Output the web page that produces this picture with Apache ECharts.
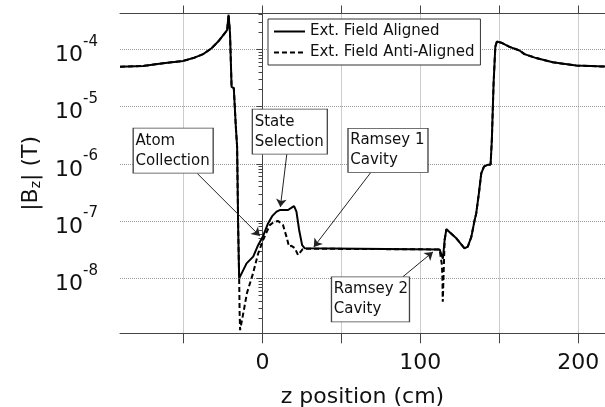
<!DOCTYPE html>
<html>
<head>
<meta charset="utf-8">
<script src="https://cdn.jsdelivr.net/npm/echarts@6/dist/echarts.min.js"></script>
<style>
  html, body { margin: 0; padding: 0; background: #fff; }
  #chart { width: 605px; height: 407px; }
</style>
</head>
<body>
<div id="chart"></div>
<script>
const FONT = 'DejaVu Sans'
const ALIGNED = 'Ext. Field Aligned'
const ANTI = 'Ext. Field Anti-Aligned'

// z position (cm) and |Bz| (T), field aligned
const zAligned = [-90.3, -75.6, -62.9, -50.3, -43.9, -37.6, -32.3, -28.1, -23.9, -22.4, -21.5, -20.6,
  -19.6, -18.2, -16.9, -16.1, -15.4, -14.8, -10.1, -5.9, -2.8, 0.4, 3.5, 6.1, 8.9, 10.9, 16.2, 18.7,
  20.0, 21.5, 23.2, 25.1, 26.8, 112.2, 113.3, 114.3, 115.4, 116.5, 117.5, 122.8, 128.0, 130.1, 132.3,
  134.4, 135.4, 137.1, 138.6, 140.3, 142.2, 144.5, 145.3, 146.4, 147.5, 148.5, 149.1, 151.3, 156.5,
  162.8, 166.0, 173.4, 183.9, 198.7, 217]
const bAligned = [4.95e-5, 5.1e-5, 5.7e-5, 6.25e-5, 7.0e-5, 8.2e-5, 1.04e-4, 1.36e-4, 1.9e-4, 2.17e-4, 4.0e-4, 1.9e-4,
  2.2e-5, 2.1e-5, 4.4e-6, 2e-6, 7e-8, 1e-8, 1.83e-8, 2.4e-8, 3.8e-8, 5.5e-8, 9.1e-8, 1.22e-7, 1.46e-7, 1.56e-7, 1.56e-7, 1.74e-7,
  1.83e-7, 1.46e-7, 7e-8, 3.8e-8, 3.34e-8, 3.2e-8, 3.0e-8, 2.2e-8, 4.7e-8, 7.2e-8, 7.5e-8, 5e-8, 3.34e-8, 3.6e-8, 5.3e-8,
  1.04e-7, 1.36e-7, 3.05e-7, 6.8e-7, 8.9e-7, 9.5e-7, 9.7e-7, 2.6e-6, 2.5e-5, 1.1e-4, 1.36e-4, 1.36e-4, 1.3e-4, 1.1e-4,
  9.5e-5, 8.2e-5, 7e-5, 5.9e-5, 5.2e-5, 4.97e-5]

// field anti-aligned: only differs inside the shield, outside it follows the aligned curve
const zAntiInner = [-14.8, -14.5, -14.2, -11.8, -9.9, -6.1, -2.8, 0.4, 4.6, 7.5, 9.9, 13.0, 15.2, 16.8, 18.3,
  20.4, 22.5, 25.3, 27.0, 112.2, 113.3, 113.7, 114.0, 114.2]
const bAntiInner = [1e-8, 2.5e-9, 1.25e-9, 2.8e-9, 5.5e-9, 1.2e-8, 2.7e-8, 4.7e-8, 8.5e-8, 9.8e-8, 1.0e-7, 8.5e-8, 5.3e-8, 3.6e-8, 3.7e-8,
  3.4e-8, 2.55e-8, 3.2e-8, 3.3e-8, 3.2e-8, 3.0e-8, 1.7e-8, 9.3e-9, 3.9e-9]

const xTicks = [-50, 0, 50, 100, 150, 200]
const xLabels = [0, 100, 200]
const yDecades = [1e-8, 1e-7, 1e-6, 1e-5, 1e-4]
const zMin = -90.3, zMax = 217
const bMin = 1.1e-9, bMax = 4.2e-4

// log minor ticks (2..9 per decade)
const yTicks = []
for (let e = -9; e <= -4; e++) {
  for (let m = 2; m <= 9; m++) {
    const v = +(m + 'e' + e)
    if (v >= bMin && v <= bMax) yTicks.push(v)
  }
}

const notes = [
  { text: 'Atom\nCollection', box: [-56.6, 1.69e-6], size: [80, 45], from: [-41.4, 6.8e-7], to: [-1.7, 5.5e-8] },
  { text: 'State\nSelection', box: [17.3, 3.64e-6], size: [75, 45], from: [15.4, 1.48e-6], to: [11.3, 1.76e-7] },
  { text: 'Ramsey 1\nCavity', box: [79.5, 1.71e-6], size: [80, 44], from: [68.5, 7e-7], to: [32.5, 3.52e-8] },
  { text: 'Ramsey 2\nCavity', box: [68.4, 4.3e-9], size: [78, 45], from: [89, 1.07e-8], to: [108, 2.9e-8] }
]

const alignedData = zAligned.map((z, i) => [z, bAligned[i]])
const antiData = alignedData.filter(p => p[0] <= -15.4)
  .concat(zAntiInner.map((z, i) => [z, bAntiInner[i]]))
  .concat(alignedData.filter(p => p[0] >= 115.4))

const chart = echarts.init(document.getElementById('chart'))

const axisColor = '#444'
const gridLine = { show: true, lineStyle: { color: '#999', type: 'dotted', width: 1 } }

chart.setOption({
  animation: false,
  grid: { left: 120, right: 0, top: 13.5, bottom: 73.7, outerBoundsMode: 'none', containLabel: false },
  legend: {
    data: [ALIGNED, ANTI],
    orient: 'vertical',
    left: 268,
    top: 19,
    itemWidth: 31,
    itemHeight: 14,
    itemGap: 6,
    padding: [5, 6, 5, 5],
    borderColor: '#333',
    borderWidth: 1,
    backgroundColor: '#fff',
    itemStyle: { opacity: 0 },
    textStyle: { fontFamily: FONT, fontSize: 15, color: '#111' }
  },
  xAxis: [
    {
      type: 'value',
      min: zMin,
      max: zMax,
      splitNumber: 6,
      axisLine: { lineStyle: { color: axisColor, width: 1 } },
      axisTick: { customValues: xTicks, length: 10, lineStyle: { color: axisColor } },
      axisLabel: { customValues: xLabels, margin: 19, fontSize: 22, fontFamily: FONT, color: '#111' },
      splitLine: gridLine,
      name: 'z position (cm)',
      nameLocation: 'middle',
      nameGap: 53,
      nameTextStyle: { fontSize: 22, fontFamily: FONT, color: '#111' }
    },
    {
      type: 'value',
      position: 'top',
      min: zMin,
      max: zMax,
      splitNumber: 6,
      axisLine: { lineStyle: { color: axisColor, width: 1 } },
      axisTick: { customValues: xTicks, length: 8, lineStyle: { color: axisColor } },
      axisLabel: { show: false },
      splitLine: { show: false }
    }
  ],
  yAxis: [
    {
      type: 'log',
      logBase: 10,
      min: bMin,
      max: bMax,
      axisLine: { show: true, lineStyle: { color: axisColor, width: 1 } },
      axisTick: { customValues: yDecades, length: 6, lineStyle: { color: axisColor } },
      axisLabel: {
        customValues: yDecades,
        margin: 22,
        formatter: v => '{b|10}{e|' + Math.round(Math.log10(v)) + '}',
        rich: {
          b: { fontSize: 22, fontFamily: FONT, color: '#111', padding: [12, 0, 0, 0] },
          e: { fontSize: 15, fontFamily: FONT, color: '#111', padding: [0, 0, 15, 0] }
        }
      },
      splitLine: gridLine,
      name: '{n||B}{s|z}{n|| (T)}',
      nameLocation: 'middle',
      nameGap: 77,
      nameTextStyle: {
        rich: {
          n: { fontSize: 22, fontFamily: FONT, color: '#111' },
          s: { fontSize: 14, fontFamily: FONT, color: '#111', padding: [10, 0, 0, 0] }
        }
      }
    },
    {
      // minor ticks only
      type: 'log',
      logBase: 10,
      min: bMin,
      max: bMax,
      position: 'left',
      axisLine: { show: false },
      axisTick: { customValues: yTicks, length: 4, lineStyle: { color: axisColor } },
      axisLabel: { show: false },
      splitLine: { show: false }
    }
  ],
  series: [
    {
      name: ANTI,
      type: 'line',
      data: antiData,
      symbol: 'none',
      z: 2,
      itemStyle: { color: '#000' },
      lineStyle: { color: '#000', width: 2, type: [5, 3] }
    },
    {
      name: ALIGNED,
      type: 'line',
      data: alignedData,
      symbol: 'none',
      z: 3,
      itemStyle: { color: '#000' },
      lineStyle: { color: '#000', width: 2 },
      markLine: {
        silent: true,
        symbol: ['none', 'arrow'],
        symbolSize: 8,
        label: { show: false },
        lineStyle: { color: '#222', width: 1, type: 'solid' },
        data: notes.map(n => [{ coord: n.from }, { coord: n.to }])
      },
      markPoint: {
        silent: true,
        data: notes.map(n => ({
          coord: n.box,
          symbol: 'rect',
          symbolSize: n.size,
          itemStyle: { color: '#fff', borderColor: '#444', borderWidth: 1 },
          label: {
            show: true,
            position: 'insideLeft',
            distance: 3,
            formatter: n.text,
            fontFamily: FONT,
            fontSize: 15,
            lineHeight: 20,
            color: '#111'
          }
        }))
      }
    }
  ]
})
</script>
</body>
</html>
